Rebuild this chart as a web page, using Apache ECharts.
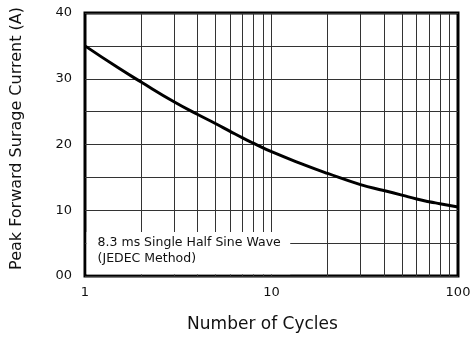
<!DOCTYPE html>
<html>
<head>
<meta charset="utf-8">
<script src="https://cdn.jsdelivr.net/npm/echarts@6/dist/echarts.min.js"></script>
<style>html,body{margin:0;padding:0;background:#fff;}#c{width:475px;height:338px;}</style>
</head>
<body>
<div id="c"></div>
<script>
// Data
var cycles  = [1, 1.5, 2, 3, 4, 5, 6, 7, 8, 10, 15, 20, 30, 40, 50, 60, 70, 80, 100];
var current = [35.0, 31.7, 29.5, 26.5, 24.6, 23.2, 22.0, 21.0, 20.2, 18.9, 16.9, 15.6, 13.9, 13.0, 12.3, 11.7, 11.3, 11.0, 10.5];
var xGridValues = [2, 3, 4, 5, 6, 7, 8, 9, 10, 20, 30, 40, 50, 60, 70, 80, 90];
var yTickValues = [0, 10, 20, 30, 40];
var yTickLabels = ['00', '10', '20', '30', '40'];
var noteLines = ['8.3 ms Single Half Sine Wave', '(JEDEC Method)'];
var noteBox = { x0: 1.02, x1: 12.6, y0: 0.25, y1: 6.7 };

var FONT = 'DejaVu Sans';
var chart = echarts.init(document.getElementById('c'), null, { renderer: 'canvas' });
chart.setOption({
  animation: false,
  backgroundColor: '#fff',
  grid: { left: 85, right: 17, top: 13, bottom: 61, show: true, borderColor: '#000', borderWidth: 3, backgroundColor: 'transparent', z: 0 },
  xAxis: {
    type: 'log', logBase: 10, min: 1, max: 100,
    axisLine: { show: false }, axisTick: { show: false },
    axisLabel: { color: '#111', fontFamily: FONT, fontSize: 13, margin: 10 },
    splitLine: { show: false },
    name: 'Number of Cycles', nameLocation: 'middle', nameGap: 40,
    nameTextStyle: { color: '#111', fontFamily: FONT, fontSize: 17, padding: [0, 18, 0, 0] }
  },
  yAxis: {
    type: 'value', min: 0, max: 40, interval: 5,
    axisLine: { show: false }, axisTick: { show: false },
    axisLabel: {
      color: '#111', fontFamily: FONT, fontSize: 13, margin: 13,
      formatter: function (v) { var i = yTickValues.indexOf(v); return i >= 0 ? yTickLabels[i] : ''; }
    },
    splitLine: { show: true, lineStyle: { color: '#333', width: 1 } },
    name: 'Peak Forward Surage Current (A)', nameLocation: 'middle', nameGap: 60,
    nameTextStyle: { color: '#111', fontFamily: FONT, fontSize: 16, padding: [0, 0, 0, 12] }
  },
  series: [
    {
      type: 'line', z: 2, data: [], silent: true,
      markLine: {
        z: 1, silent: true, symbol: ['none', 'none'], label: { show: false },
        lineStyle: { color: '#333', width: 1, type: 'solid' },
        emphasis: { disabled: true },
        data: xGridValues.map(function (v) { return { xAxis: v }; })
      }
    },
    {
      type: 'line', z: 3, data: [], silent: true,
      markArea: {
        z: 3, silent: true,
        itemStyle: { color: '#fff', opacity: 1 },
        label: {
          show: true, position: 'insideTopLeft', distance: 0,
          padding: [3, 0, 0, 11], color: '#111', fontFamily: FONT, fontSize: 12.5, lineHeight: 16,
          formatter: noteLines.join('\n')
        },
        data: [[{ xAxis: noteBox.x0, yAxis: noteBox.y0 }, { xAxis: noteBox.x1, yAxis: noteBox.y1 }]]
      }
    },
    {
      type: 'line', z: 6, smooth: 0.5, showSymbol: false,
      lineStyle: { color: '#000', width: 3 },
      data: cycles.map(function (c, i) { return [c, current[i]]; })
    }
  ]
});
</script>
</body>
</html>
